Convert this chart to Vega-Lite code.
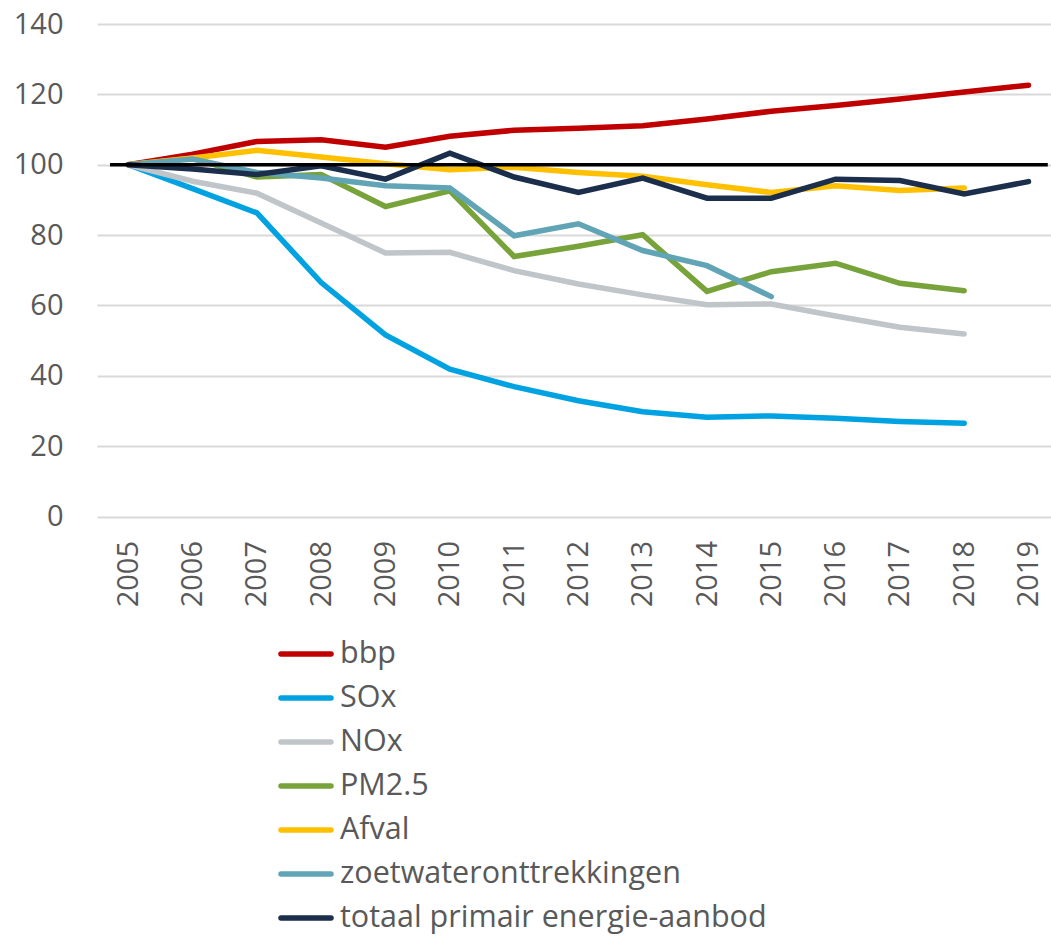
{
  "$schema": "https://vega.github.io/schema/vega-lite/v6.json",
  "autosize": {"type": "none"},
  "padding": {"left": 97, "top": 24, "right": 0, "bottom": 424},
  "width": 954,
  "height": 492.5,
  "background": "white",
  "config": {
    "view": {"stroke": null},
    "font": "Open Sans",
    "axis": {"labelFont": "Open Sans", "labelColor": "#595959"},
    "legend": {"labelFont": "Open Sans"}
  },
  "title": {
    "text": "(index, 2005=100)",
    "orient": "top",
    "anchor": "start",
    "frame": "group",
    "color": "#5BA3B8",
    "fontSize": 26,
    "fontWeight": "normal",
    "font": "Open Sans",
    "baseline": "alphabetic",
    "offset": 26,
    "dx": 8
  },
  "datasets": {
    "series": [
      {"year": 2005, "series": "bbp", "value": 100},
      {"year": 2006, "series": "bbp", "value": 103.0},
      {"year": 2007, "series": "bbp", "value": 106.6},
      {"year": 2008, "series": "bbp", "value": 107.1},
      {"year": 2009, "series": "bbp", "value": 105.0},
      {"year": 2010, "series": "bbp", "value": 108.1},
      {"year": 2011, "series": "bbp", "value": 109.8},
      {"year": 2012, "series": "bbp", "value": 110.4},
      {"year": 2013, "series": "bbp", "value": 111.1},
      {"year": 2014, "series": "bbp", "value": 113.0},
      {"year": 2015, "series": "bbp", "value": 115.2},
      {"year": 2016, "series": "bbp", "value": 116.8},
      {"year": 2017, "series": "bbp", "value": 118.7},
      {"year": 2018, "series": "bbp", "value": 120.7},
      {"year": 2019, "series": "bbp", "value": 122.6},
      {"year": 2005, "series": "SOx", "value": 100},
      {"year": 2006, "series": "SOx", "value": 93.2},
      {"year": 2007, "series": "SOx", "value": 86.3},
      {"year": 2008, "series": "SOx", "value": 66.5},
      {"year": 2009, "series": "SOx", "value": 51.6},
      {"year": 2010, "series": "SOx", "value": 41.9},
      {"year": 2011, "series": "SOx", "value": 36.9},
      {"year": 2012, "series": "SOx", "value": 32.9},
      {"year": 2013, "series": "SOx", "value": 29.8},
      {"year": 2014, "series": "SOx", "value": 28.2},
      {"year": 2015, "series": "SOx", "value": 28.6},
      {"year": 2016, "series": "SOx", "value": 27.9},
      {"year": 2017, "series": "SOx", "value": 27.0},
      {"year": 2018, "series": "SOx", "value": 26.5},
      {"year": 2005, "series": "NOx", "value": 100},
      {"year": 2006, "series": "NOx", "value": 95.3},
      {"year": 2007, "series": "NOx", "value": 91.9},
      {"year": 2008, "series": "NOx", "value": 83.4},
      {"year": 2009, "series": "NOx", "value": 74.9},
      {"year": 2010, "series": "NOx", "value": 75.1},
      {"year": 2011, "series": "NOx", "value": 69.9},
      {"year": 2012, "series": "NOx", "value": 66.1},
      {"year": 2013, "series": "NOx", "value": 63.0},
      {"year": 2014, "series": "NOx", "value": 60.2},
      {"year": 2015, "series": "NOx", "value": 60.4},
      {"year": 2016, "series": "NOx", "value": 57.0},
      {"year": 2017, "series": "NOx", "value": 53.8},
      {"year": 2018, "series": "NOx", "value": 51.9},
      {"year": 2005, "series": "PM2.5", "value": 100},
      {"year": 2006, "series": "PM2.5", "value": 101.8},
      {"year": 2007, "series": "PM2.5", "value": 96.5},
      {"year": 2008, "series": "PM2.5", "value": 97.2},
      {"year": 2009, "series": "PM2.5", "value": 88.1},
      {"year": 2010, "series": "PM2.5", "value": 92.6},
      {"year": 2011, "series": "PM2.5", "value": 73.9},
      {"year": 2012, "series": "PM2.5", "value": 76.8},
      {"year": 2013, "series": "PM2.5", "value": 80.1},
      {"year": 2014, "series": "PM2.5", "value": 64.0},
      {"year": 2015, "series": "PM2.5", "value": 69.6},
      {"year": 2016, "series": "PM2.5", "value": 72.0},
      {"year": 2017, "series": "PM2.5", "value": 66.3},
      {"year": 2018, "series": "PM2.5", "value": 64.2},
      {"year": 2005, "series": "Afval", "value": 100},
      {"year": 2006, "series": "Afval", "value": 101.9},
      {"year": 2007, "series": "Afval", "value": 104.1},
      {"year": 2008, "series": "Afval", "value": 102.2},
      {"year": 2009, "series": "Afval", "value": 100.3},
      {"year": 2010, "series": "Afval", "value": 98.6},
      {"year": 2011, "series": "Afval", "value": 99.3},
      {"year": 2012, "series": "Afval", "value": 97.8},
      {"year": 2013, "series": "Afval", "value": 96.7},
      {"year": 2014, "series": "Afval", "value": 94.3},
      {"year": 2015, "series": "Afval", "value": 92.1},
      {"year": 2016, "series": "Afval", "value": 94.0},
      {"year": 2017, "series": "Afval", "value": 92.7},
      {"year": 2018, "series": "Afval", "value": 93.4},
      {"year": 2005, "series": "zoetwateronttrekkingen", "value": 100},
      {"year": 2006, "series": "zoetwateronttrekkingen", "value": 101.6},
      {"year": 2007, "series": "zoetwateronttrekkingen", "value": 97.8},
      {"year": 2008, "series": "zoetwateronttrekkingen", "value": 96.2},
      {"year": 2009, "series": "zoetwateronttrekkingen", "value": 94.0},
      {"year": 2010, "series": "zoetwateronttrekkingen", "value": 93.4},
      {"year": 2011, "series": "zoetwateronttrekkingen", "value": 79.8},
      {"year": 2012, "series": "zoetwateronttrekkingen", "value": 83.2},
      {"year": 2013, "series": "zoetwateronttrekkingen", "value": 75.6},
      {"year": 2014, "series": "zoetwateronttrekkingen", "value": 71.3},
      {"year": 2015, "series": "zoetwateronttrekkingen", "value": 62.5},
      {"year": 2005, "series": "totaal primair energie-aanbod", "value": 100},
      {"year": 2006, "series": "totaal primair energie-aanbod", "value": 98.8},
      {"year": 2007, "series": "totaal primair energie-aanbod", "value": 97.2},
      {"year": 2008, "series": "totaal primair energie-aanbod", "value": 99.7},
      {"year": 2009, "series": "totaal primair energie-aanbod", "value": 95.9},
      {"year": 2010, "series": "totaal primair energie-aanbod", "value": 103.3},
      {"year": 2011, "series": "totaal primair energie-aanbod", "value": 96.5},
      {"year": 2012, "series": "totaal primair energie-aanbod", "value": 92.1},
      {"year": 2013, "series": "totaal primair energie-aanbod", "value": 96.2},
      {"year": 2014, "series": "totaal primair energie-aanbod", "value": 90.5},
      {"year": 2015, "series": "totaal primair energie-aanbod", "value": 90.5},
      {"year": 2016, "series": "totaal primair energie-aanbod", "value": 95.9},
      {"year": 2017, "series": "totaal primair energie-aanbod", "value": 95.5},
      {"year": 2018, "series": "totaal primair energie-aanbod", "value": 91.7},
      {"year": 2019, "series": "totaal primair energie-aanbod", "value": 95.2}
    ],
    "baseline": [
      {"start": 2004.715, "end": 2019.3, "value": 100}
    ]
  },
  "layer": [
    {
      "data": {"name": "series"},
      "mark": {"type": "line", "strokeWidth": 5.5, "strokeCap": "round", "strokeJoin": "miter"},
      "encoding": {
        "x": {
          "field": "year",
          "type": "quantitative",
          "scale": {"domain": [2004.513, 2019.35], "nice": false, "zero": false},
          "axis": {
            "values": [2005, 2006, 2007, 2008, 2009, 2010, 2011, 2012, 2013, 2014, 2015, 2016, 2017, 2018, 2019],
            "format": "d",
            "labelAngle": -90,
            "labelFontSize": 29,
            "labelPadding": 24,
            "ticks": false,
            "domain": false,
            "grid": false,
            "title": null,
            "labelOverlap": false,
            "labelFlush": false
          }
        },
        "y": {
          "field": "value",
          "type": "quantitative",
          "scale": {"domain": [0, 140], "nice": false},
          "axis": {
            "values": [0, 20, 40, 60, 80, 100, 120, 140],
            "labelFontSize": 29,
            "labelPadding": 34,
            "ticks": false,
            "domain": false,
            "grid": true,
            "gridColor": "#d9d9d9",
            "gridWidth": 2,
            "title": null
          }
        },
        "color": {
          "field": "series",
          "type": "nominal",
          "scale": {
            "domain": ["bbp", "SOx", "NOx", "PM2.5", "Afval", "zoetwateronttrekkingen", "totaal primair energie-aanbod"],
            "range": ["#C00000", "#00A2E1", "#BFC5C9", "#77A33A", "#FFC000", "#60A4B5", "#1B2E4B"]
          },
          "legend": {
            "orient": "none",
            "legendX": 181,
            "legendY": 602,
            "direction": "vertical",
            "title": null,
            "symbolType": "stroke",
            "symbolSize": 2500,
            "symbolStrokeWidth": 5.5,
            "labelFontSize": 30.5,
            "labelColor": "#595959",
            "labelOffset": 6,
            "rowPadding": -2,
            "labelLimit": 600,
            "encode": {"symbols": {"update": {"strokeCap": {"value": "round"}}}}
          }
        }
      }
    },
    {
      "data": {"name": "baseline"},
      "mark": {"type": "rule", "color": "black", "strokeWidth": 3.5},
      "encoding": {
        "x": {"field": "start", "type": "quantitative", "scale": {"domain": [2004.513, 2019.35], "nice": false, "zero": false}},
        "x2": {"field": "end"},
        "y": {"field": "value", "type": "quantitative"}
      }
    }
  ]
}
